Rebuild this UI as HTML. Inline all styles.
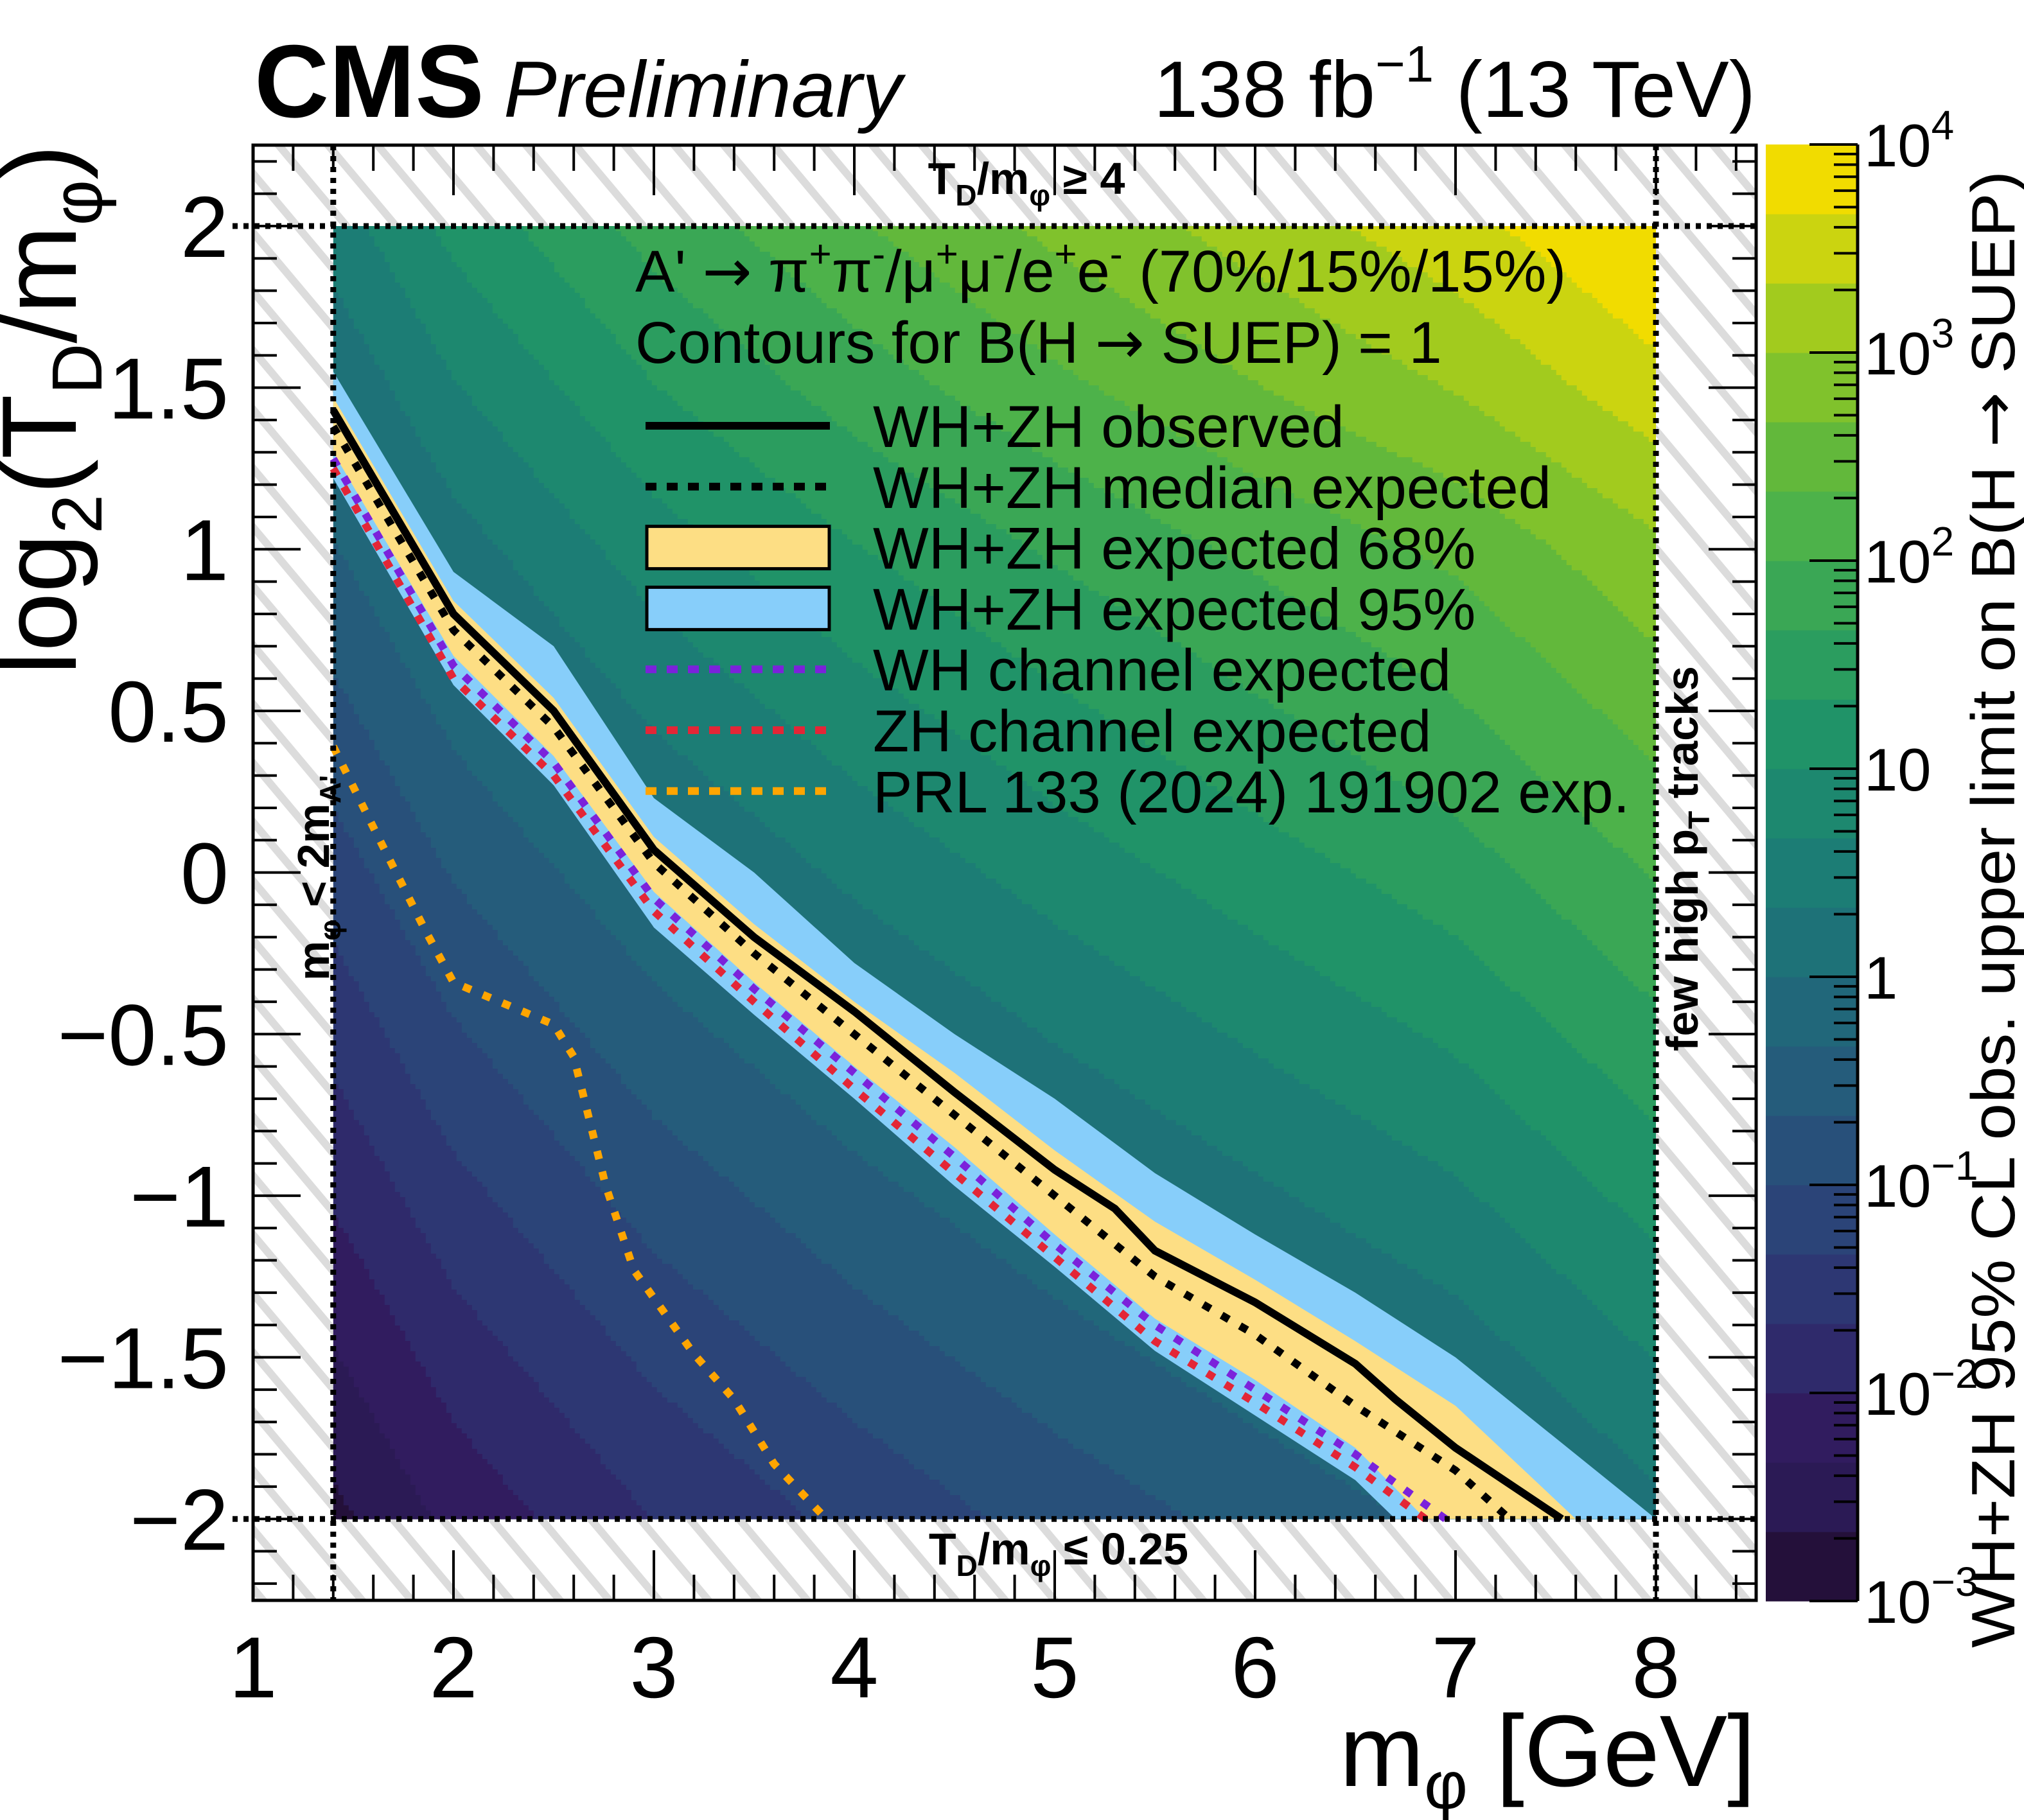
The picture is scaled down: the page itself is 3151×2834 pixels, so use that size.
<!DOCTYPE html>
<html><head><meta charset="utf-8">
<style>
html,body{margin:0;padding:0;background:#fff;}
svg{display:block;font-family:"Liberation Sans",sans-serif;}
.arr{font-family:"DejaVu Sans",sans-serif;}
</style></head>
<body>
<svg id="chart" xmlns="http://www.w3.org/2000/svg" width="3151" height="2834" viewBox="0 0 3151 2834">
<defs>
<pattern id="hatch" patternUnits="userSpaceOnUse" width="59" height="59" patternTransform="rotate(-40)">
<line x1="10" y1="-10" x2="10" y2="70" stroke="#dcdcdc" stroke-width="12"/>
</pattern>
<clipPath id="plotclip"><rect x="394" y="226" width="2340" height="2266"/></clipPath>
</defs>
<rect x="394" y="226" width="2340" height="2266" fill="url(#hatch)"/>
<g id="heat"></g>
<g id="bands" clip-path="url(#plotclip)"></g>
<g id="curves" clip-path="url(#plotclip)"></g>
<g id="bounds"></g>
<g id="axes"></g>
<g id="cbar"></g>
<g id="legend"></g>

<text x="396" y="182" font-size="161" font-weight="bold">CMS</text>
<text x="784" y="182" font-size="124" font-style="italic">Preliminary</text>
<text x="2733" y="182" font-size="124" text-anchor="end">138 fb<tspan font-size="80" dy="-55">−1</tspan><tspan dy="55"> (13 TeV)</tspan></text>

<text transform="translate(118,225) rotate(-90)" font-size="165" text-anchor="end">log<tspan font-size="110" dy="40">2</tspan><tspan dy="-40">(T</tspan><tspan font-size="110" dy="40">D</tspan><tspan dy="-40">/m</tspan><tspan font-size="110" dy="40">φ</tspan><tspan dy="-40">)</tspan></text>
<text x="2733" y="2781" font-size="158" text-anchor="end">m<tspan font-size="105" dy="35">φ</tspan><tspan dy="-35"> [GeV]</tspan></text>
<text transform="translate(3136,1416) rotate(-90)" font-size="96" text-anchor="middle" textLength="2300" lengthAdjust="spacingAndGlyphs">WH+ZH 95% CL obs. upper limit on B(H <tspan class="arr">→</tspan> SUEP)</text>

<text x="1598" y="302" font-size="70" font-weight="bold" text-anchor="middle">T<tspan font-size="46" dy="18">D</tspan><tspan dy="-18">/m</tspan><tspan font-size="46" dy="18">φ</tspan><tspan dy="-18"> ≥ 4</tspan></text>
<text x="1648" y="2436" font-size="70" font-weight="bold" text-anchor="middle">T<tspan font-size="46" dy="18">D</tspan><tspan dy="-18">/m</tspan><tspan font-size="46" dy="18">φ</tspan><tspan dy="-18"> ≤ 0.25</tspan></text>
<text transform="translate(512,1367) rotate(-90)" font-size="70" font-weight="bold" text-anchor="middle">m<tspan font-size="46" dy="18">φ</tspan><tspan dy="-18"> &lt; 2m</tspan><tspan font-size="46" dy="18">A'</tspan></text>
<text transform="translate(2643,1337) rotate(-90)" font-size="70" font-weight="bold" text-anchor="middle">few high p<tspan font-size="46" dy="18">T</tspan><tspan dy="-18"> tracks</tspan></text>
</svg>

<script>
// ---------- data ----------
const gridX = [1.4, 2, 3, 4, 5, 6, 7, 8];
const gridY = [2, 1.5, 1, 0.5, 0, -0.5, -1, -1.5, -2];
const logLimitRow2p0  = [0.50, 1.10, 1.80, 2.30, 2.75, 3.15, 3.55, 4.05];
const logLimitRow1p5  = [0.05, 0.64, 1.32, 1.82, 2.25, 2.65, 3.02, 3.55];
const logLimitRow1p0  = [-0.36, 0.18, 0.84, 1.31, 1.71, 2.07, 2.41, 2.93];
const logLimitRow0p5  = [-0.76, -0.24, 0.39, 0.86, 1.26, 1.62, 1.96, 2.48];
const logLimitRow0p0  = [-1.16, -0.64, -0.06, 0.41, 0.81, 1.17, 1.51, 2.03];
const logLimitRowM0p5 = [-1.56, -1.04, -0.46, -0.04, 0.36, 0.72, 1.06, 1.58];
const logLimitRowM1p0 = [-1.96, -1.44, -0.86, -0.44, -0.08, 0.27, 0.61, 1.13];
const logLimitRowM1p5 = [-2.36, -1.84, -1.26, -0.84, -0.48, -0.16, 0.16, 0.68];
const logLimitRowM2p0 = [-2.76, -2.24, -1.66, -1.24, -0.88, -0.56, -0.26, 0.23];

const obsX = [1.4, 2, 2.5, 3, 3.5, 4, 4.5, 5, 5.3, 5.5, 6, 6.5, 6.7, 7.0, 7.53];
const obsY = [1.43, 0.8, 0.5, 0.07, -0.2, -0.43, -0.68, -0.92, -1.04, -1.17, -1.33, -1.52, -1.63, -1.78, -2.0];
const expX = [1.4, 2, 2.5, 3, 3.5, 4, 4.5, 5, 5.5, 6, 6.5, 7, 7.27];
const expY = [1.38, 0.75, 0.45, 0.03, -0.25, -0.5, -0.75, -1.0, -1.25, -1.43, -1.65, -1.85, -2.0];
const b68UpX = [1.4, 2, 2.5, 3, 3.5, 4, 4.5, 5, 5.5, 6, 6.5, 7, 7.6];
const b68UpY = [1.47, 0.84, 0.54, 0.11, -0.16, -0.4, -0.62, -0.86, -1.08, -1.26, -1.45, -1.65, -2.0];
const b68LoX = [1.4, 2, 2.5, 3, 3.5, 4, 4.5, 5, 5.5, 6, 6.5, 6.85];
const b68LoY = [1.3, 0.67, 0.36, -0.06, -0.34, -0.6, -0.85, -1.12, -1.38, -1.57, -1.78, -2.0];
const b95UpX = [1.4, 2, 2.5, 3, 3.5, 4, 4.5, 5, 5.5, 6, 6.5, 7, 7.5, 8];
const b95UpY = [1.55, 0.93, 0.7, 0.23, 0.0, -0.28, -0.5, -0.7, -0.93, -1.12, -1.3, -1.5, -1.75, -2.0];
const b95LoX = [1.4, 2, 2.5, 3, 3.5, 4, 4.5, 5, 5.5, 6, 6.5, 6.7];
const b95LoY = [1.22, 0.58, 0.27, -0.17, -0.44, -0.7, -0.97, -1.22, -1.48, -1.68, -1.88, -2.0];
const whX = [1.4, 2, 2.5, 3, 3.5, 4, 4.5, 5, 5.5, 6, 6.5, 6.95];
const whY = [1.28, 0.64, 0.34, -0.08, -0.36, -0.62, -0.88, -1.15, -1.4, -1.6, -1.8, -2.0];
const zhX = [1.4, 2, 2.5, 3, 3.5, 4, 4.5, 5, 5.5, 6, 6.5, 6.85];
const zhY = [1.25, 0.6, 0.3, -0.12, -0.4, -0.67, -0.93, -1.19, -1.45, -1.64, -1.84, -2.0];
const prlX = [1.4, 1.6, 1.86, 2.0, 2.5, 2.6, 2.76, 2.9, 3.2, 3.4, 3.6, 3.86];
const prlY = [0.39, 0.14, -0.18, -0.34, -0.47, -0.57, -0.97, -1.23, -1.49, -1.63, -1.83, -2.0];

const xTickLabels = ["1", "2", "3", "4", "5", "6", "7", "8"];
const yTickValues = [2, 1.5, 1, 0.5, 0, -0.5, -1, -1.5, -2];
const yTickLabels = ["2", "1.5", "1", "0.5", "0", "−0.5", "−1", "−1.5", "−2"];
const cbarExponents = [4, 3, 2, 1, 0, -1, -2, -3];
const cbarLabels = ["10^4", "10^3", "10^2", "10", "1", "10^−1", "10^−2", "10^−3"];
const paletteColors = ['#24103a','#2b1a55','#311c5f','#2f2a6b','#2d3773','#2b4478','#28507a','#255c7b','#21677a','#1e7278','#1c7d75','#1d886f','#209368','#2b9d5f','#3aa755','#4db24a','#62b83b','#80c22c','#a2cb1e','#cbd410','#f1dc00'];

// ---------- scales ----------
const NS = "http://www.w3.org/2000/svg";
const X0 = 394, XU = 312, Y2 = 352, YU = 503.3;
function sx(v){ return X0 + (v - 1) * XU; }
function sy(v){ return Y2 + (2 - v) * YU; }
const CB_TOP = 225, CB_DEC = 324, CB_L = 2749, CB_R = 2892;
function scb(e){ return CB_TOP + (4 - e) * CB_DEC; }
function mk(tag, parent){ const e = document.createElementNS(NS, tag); parent.appendChild(e); return e; }
function colorFor(lv){
  let i = Math.floor((lv + 3) * 3);
  if (i < 0) i = 0; if (i > 20) i = 20;
  return paletteColors[i];
}

// ---------- heatmap ----------
const rows = [logLimitRow2p0, logLimitRow1p5, logLimitRow1p0, logLimitRow0p5, logLimitRow0p0, logLimitRowM0p5, logLimitRowM1p0, logLimitRowM1p5, logLimitRowM2p0];
function interp(x, y){
  let i = 0; while (i < gridX.length - 2 && x > gridX[i+1]) i++;
  let j = 0; while (j < gridY.length - 2 && y < gridY[j+1]) j++;
  const tx = (x - gridX[i]) / (gridX[i+1] - gridX[i]);
  const ty = (gridY[j] - y) / (gridY[j] - gridY[j+1]);
  const a = rows[j][i], b = rows[j][i+1], c = rows[j+1][i], d = rows[j+1][i+1];
  return (a*(1-tx) + b*tx)*(1-ty) + (c*(1-tx) + d*tx)*ty;
}
const heat = document.getElementById('heat');
(function(){
  const px0 = sx(gridX[0]), px1 = sx(gridX[gridX.length-1]);
  const py0 = sy(gridY[0]), py1 = sy(gridY[gridY.length-1]);
  const step = 8;
  const nx = Math.ceil((px1 - px0) / step), ny = Math.ceil((py1 - py0) / step);
  for (let r = 0; r < ny; r++) {
    const py = py0 + r * step;
    const h = Math.min(step, py1 - py);
    const vy = 2 - (py + h/2 - Y2) / YU;
    let runStart = px0, runColor = null;
    for (let k = 0; k <= nx; k++) {
      const px = Math.min(px0 + k * step, px1);
      let c = null;
      if (k < nx) { const w = Math.min(step, px1 - px); const vx = 1 + (px + w/2 - X0) / XU; c = colorFor(interp(vx, vy)); }
      if (c !== runColor) {
        if (runColor !== null) {
          const rc = mk('rect', heat);
          
          
          rc.setAttribute('x', runStart); rc.setAttribute('y', py);
          rc.setAttribute('width', px - runStart + (k < nx ? 0.6 : 0)); rc.setAttribute('height', h + 0.6);
          rc.setAttribute('fill', runColor);
        }
        runStart = px; runColor = c;
      }
    }
  }
})();

// ---------- bands & curves ----------
function pts(xs, ys){ return xs.map((x,i)=> sx(x).toFixed(1)+','+sy(ys[i]).toFixed(1)); }
const bands = document.getElementById('bands');
const p95 = mk('polygon', bands);


p95.setAttribute('points', pts(b95UpX, b95UpY).concat(pts(b95LoX, b95LoY).reverse()).join(' '));
p95.setAttribute('fill', '#87cefa');
const p68 = mk('polygon', bands);


p68.setAttribute('points', pts(b68UpX, b68UpY).concat(pts(b68LoX, b68LoY).reverse()).join(' '));
p68.setAttribute('fill', '#fdde84');

const curves = document.getElementById('curves');
function line(xs, ys, color, dash){
  const l = mk('polyline', curves);
  l.setAttribute('points', pts(xs, ys).join(' '));
  l.setAttribute('fill', 'none'); l.setAttribute('stroke', color); l.setAttribute('stroke-width', '12');
  if (dash) l.setAttribute('stroke-dasharray', dash);
  return l;
}
const lPrl = line(prlX, prlY, '#ffa500', '13 20');


const lZh = line(zhX, zhY, '#e32636', '13 20');


const lWh = line(whX, whY, '#7b22db', '13 20');


const lExp = line(expX, expY, '#000', '13 20');


const lObs = line(obsX, obsY, '#000', null);



// ---------- boundary dotted lines ----------
const bounds = document.getElementById('bounds');
function dl(x1,y1,x2,y2){
  const l = mk('line', bounds);
  l.setAttribute('x1',x1); l.setAttribute('y1',y1); l.setAttribute('x2',x2); l.setAttribute('y2',y2);
  l.setAttribute('stroke','#000'); l.setAttribute('stroke-width','9'); l.setAttribute('stroke-dasharray','8 9');
  return l;
}
const bl1 = dl(sx(1.4), 226, sx(1.4), 2492);


const bl2 = dl(sx(8), 226, sx(8), 2492);


const bl3 = dl(362, sy(2), 2734, sy(2));


const bl4 = dl(362, sy(-2), 2734, sy(-2));



// ---------- axes ----------
const axes = document.getElementById('axes');
const frame = mk('rect', axes);


frame.setAttribute('x', 394); frame.setAttribute('y', 226); frame.setAttribute('width', 2340); frame.setAttribute('height', 2266);
frame.setAttribute('fill', 'none'); frame.setAttribute('stroke', '#000'); frame.setAttribute('stroke-width', '5');
function tk(x1,y1,x2,y2){
  const l = mk('line', axes);
  l.setAttribute('x1',x1); l.setAttribute('y1',y1); l.setAttribute('x2',x2); l.setAttribute('y2',y2);
  l.setAttribute('stroke','#000'); l.setAttribute('stroke-width','4');
  return l;
}
for (let k = 0; k <= 37; k++) {
  const v = 1 + k * 0.2; const x = sx(v);
  const major = (k % 5 === 0); const len = major ? 78 : 40;
  const t1 = tk(x, 2492, x, 2492 - len);
  
  
  const t2 = tk(x, 226, x, 226 + len);
  
  
}
xTickLabels.forEach((lab, i) => {
  const t = mk('text', axes);
  
  
  t.setAttribute('x', sx(parseFloat(lab))); t.setAttribute('y', 2643);
  t.setAttribute('font-size', '135'); t.setAttribute('text-anchor', 'middle');
  t.textContent = lab;
});
for (let k = -22; k <= 22; k++) {
  const v = k * 0.1; const y = sy(v);
  const major = (k % 5 === 0); const len = major ? 74 : 37;
  const t1 = tk(394, y, 394 + len, y);
  
  
  const t2 = tk(2734, y, 2734 - len, y);
  
  
}
yTickLabels.forEach((lab, i) => {
  const t = mk('text', axes);
  
  
  t.setAttribute('x', 356); t.setAttribute('y', sy(yTickValues[i]) + 48);
  t.setAttribute('font-size', '135'); t.setAttribute('text-anchor', 'end');
  t.textContent = lab;
});

// ---------- colorbar ----------
const cbar = document.getElementById('cbar');
paletteColors.forEach((c, i) => {
  const r = mk('rect', cbar);
  
  
  const e0 = -3 + i / 3, e1 = -3 + (i + 1) / 3;
  r.setAttribute('x', CB_L); r.setAttribute('y', scb(e1)); r.setAttribute('width', CB_R - CB_L); r.setAttribute('height', scb(e0) - scb(e1) + 0.6);
  r.setAttribute('fill', c);
});
const cbAxis = mk('line', cbar);


cbAxis.setAttribute('x1', CB_R); cbAxis.setAttribute('y1', scb(4)); cbAxis.setAttribute('x2', CB_R); cbAxis.setAttribute('y2', scb(-3));
cbAxis.setAttribute('stroke', '#000'); cbAxis.setAttribute('stroke-width', '5');
for (let e = -3; e <= 4; e++) {
  const mj = mk('line', cbar);
  
  
  mj.setAttribute('x1', CB_R); mj.setAttribute('x2', CB_R - 75); mj.setAttribute('y1', scb(e)); mj.setAttribute('y2', scb(e));
  mj.setAttribute('stroke', '#000'); mj.setAttribute('stroke-width', '4');
  if (e < 4) for (let m = 2; m <= 9; m++) {
    const mn = mk('line', cbar);
    
    
    const yy = scb(e + Math.log10(m));
    mn.setAttribute('x1', CB_R); mn.setAttribute('x2', CB_R - 37); mn.setAttribute('y1', yy); mn.setAttribute('y2', yy);
    mn.setAttribute('stroke', '#000'); mn.setAttribute('stroke-width', '4');
  }
}
cbarLabels.forEach((lab, i) => {
  const t = mk('text', cbar);
  
  
  t.setAttribute('x', 2902); t.setAttribute('y', scb(cbarExponents[i]) + 34);
  t.setAttribute('font-size', '94');
  const parts = lab.split('^');
  t.textContent = parts[0];
  if (parts[1]) {
    const s = document.createElementNS(NS, 'tspan');
    s.setAttribute('font-size', '64'); s.setAttribute('dy', '-42');
    s.textContent = parts[1];
    t.appendChild(s);
  }
});

// ---------- legend ----------
const legend = document.getElementById('legend');
const h1 = mk('text', legend);


h1.setAttribute('x', 989); h1.setAttribute('y', 454); h1.setAttribute('font-size', '92');
h1.innerHTML = "A' <tspan class='arr'>→</tspan> π<tspan font-size='60' dy='-38'>+</tspan><tspan dy='38'>π</tspan><tspan font-size='60' dy='-38'>-</tspan><tspan dy='38'>/μ</tspan><tspan font-size='60' dy='-38'>+</tspan><tspan dy='38'>μ</tspan><tspan font-size='60' dy='-38'>-</tspan><tspan dy='38'>/e</tspan><tspan font-size='60' dy='-38'>+</tspan><tspan dy='38'>e</tspan><tspan font-size='60' dy='-38'>-</tspan><tspan dy='38'> (70%/15%/15%)</tspan>";
const h2 = mk('text', legend);


h2.setAttribute('x', 989); h2.setAttribute('y', 565); h2.setAttribute('font-size', '92');
h2.innerHTML = "Contours for B(H <tspan class='arr'>→</tspan> SUEP) = 1";

const legendLabels = ["WH+ZH observed", "WH+ZH median expected", "WH+ZH expected 68%", "WH+ZH expected 95%", "WH channel expected", "ZH channel expected", "PRL 133 (2024) 191902 exp."];
const legendKinds = ["solid", "dot", "box68", "box95", "dotwh", "dotzh", "dotprl"];
legendLabels.forEach((lab, i) => {
  const cy = 663 + i * 94.8;
  const kind = legendKinds[i];
  if (kind.startsWith('box')) {
    const r = mk('rect', legend);
    
    
    r.setAttribute('x', 1007); r.setAttribute('y', cy - 33); r.setAttribute('width', 284); r.setAttribute('height', 66);
    r.setAttribute('fill', kind === 'box68' ? '#fdde84' : '#87cefa'); r.setAttribute('stroke', '#000'); r.setAttribute('stroke-width', '5');
  } else {
    const l = mk('line', legend);
    
    
    l.setAttribute('x1', 1005); l.setAttribute('x2', 1292); l.setAttribute('y1', cy); l.setAttribute('y2', cy);
    l.setAttribute('stroke-width', '12');
    const col = {solid:'#000', dot:'#000', dotwh:'#7b22db', dotzh:'#e32636', dotprl:'#ffa500'}[kind];
    l.setAttribute('stroke', col);
    if (kind !== 'solid') l.setAttribute('stroke-dasharray', '17 16');
  }
  const t = mk('text', legend);
  
  
  t.setAttribute('x', 1359); t.setAttribute('y', cy + 33); t.setAttribute('font-size', '92');
  t.textContent = lab;
});
</script>
</body></html>
